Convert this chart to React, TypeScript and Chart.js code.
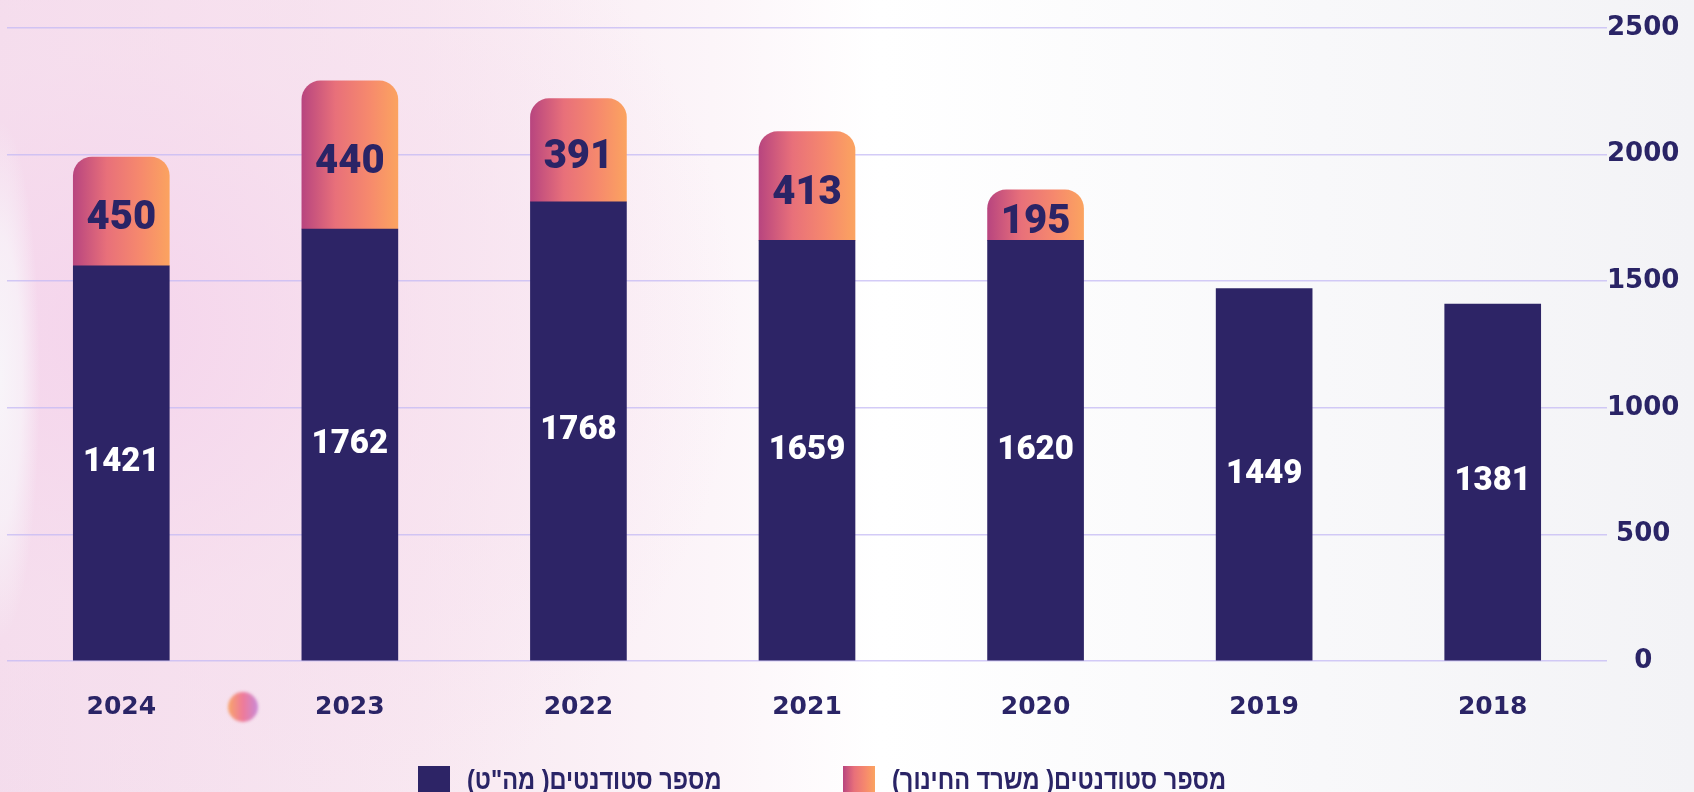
import React, { useEffect, useRef } from "react";
import { Chart, registerables } from "chart.js";

Chart.register(...registerables);

// ---- data ----
const years = ["2024", "2023", "2022", "2021", "2020", "2019", "2018"];
// bar heights as drawn against the value axis
const mahatHeights = [1561, 1706, 1813, 1661, 1661, 1471, 1410];
const eduHeights: (number | null)[] = [429, 585, 408, 430, 200, null, null];
// numbers printed on the bars
const mahatLabels = [1421, 1762, 1768, 1659, 1620, 1449, 1381];
const eduLabels: (number | null)[] = [450, 440, 391, 413, 195, null, null];
const yTickValues = [0, 500, 1000, 1500, 2000, 2500];
const seriesNames = ['מספר סטודנטים( מה"ט)', 'מספר סטודנטים( משרד החינוך)'];

// ---- style ----
const NAVY = "#2d2466";
const TEXT_NAVY = "#2a2466";
const BAR_W = 96;
const GRAD_STOPS: [number, string][] = [
  [0, "#b8457f"],
  [0.35, "#e8707a"],
  [0.7, "#f6896d"],
  [1, "#fba360"],
];

function makeGrad(ctx: CanvasRenderingContext2D, x0: number, x1: number) {
  if (!Number.isFinite(x0) || !Number.isFinite(x1)) return "#f0806f" as any;
  const g = ctx.createLinearGradient(x0, 0, x1, 0);
  GRAD_STOPS.forEach(([o, c]) => g.addColorStop(o, c));
  return g;
}

const barLabelPlugin = {
  id: "barLabels",
  afterDatasetsDraw(chart: any) {
    const ctx = chart.ctx as CanvasRenderingContext2D;
    const sets = [
      { idx: 0, labels: mahatLabels, color: "#ffffff", size: 33, dy: 0 },
      { idx: 1, labels: eduLabels, color: TEXT_NAVY, size: 40, dy: 8 },
    ];
    ctx.save();
    ctx.textAlign = "center";
    ctx.textBaseline = "middle";
    sets.forEach((s) => {
      const meta = chart.getDatasetMeta(s.idx);
      ctx.font = `900 ${s.size}px Roboto, "Liberation Sans", sans-serif`;
      ctx.fillStyle = s.color;
      meta.data.forEach((el: any, i: number) => {
        const v = s.labels[i];
        if (v == null) return;
        const y = (el.y + el.base) / 2 + s.dy;
        ctx.fillText(String(v), el.x, y);
      });
    });
    ctx.restore();
  },
};

const legendPlugin = {
  id: "customLegend",
  afterDraw(chart: any) {
    const ctx = chart.ctx as CanvasRenderingContext2D;
    const area = chart.chartArea;
    const boxW = 32;
    const boxH = 30;
    const gapText = 17;
    const slot = 425;
    const top = 766;
    const cy = 781;
    const sx = 0.84;
    ctx.save();
    ctx.font = `bold 28px "Liberation Sans", "DejaVu Sans", sans-serif`;
    (ctx as any).direction = "rtl";
    ctx.textAlign = "left";
    ctx.textBaseline = "middle";
    const start = area.left + 411;
    seriesNames.forEach((name, i) => {
      const x = start + i * slot;
      ctx.fillStyle = i === 0 ? NAVY : makeGrad(ctx, x, x + boxW);
      ctx.fillRect(x, top, boxW, boxH);
      ctx.save();
      ctx.translate(x + boxW + gapText, cy);
      ctx.scale(sx, 1);
      ctx.fillStyle = TEXT_NAVY;
      ctx.fillText(name, 0, 0);
      ctx.restore();
    });
    ctx.restore();
  },
};

export default function App() {
  const ref = useRef<HTMLCanvasElement | null>(null);

  useEffect(() => {
    if (!ref.current) return;
    const chart = new Chart(ref.current, {
      type: "bar",
      data: {
        labels: years,
        datasets: [
          {
            label: seriesNames[0],
            data: mahatHeights,
            backgroundColor: NAVY,
            barThickness: BAR_W,
            borderWidth: 0,
          },
          {
            label: seriesNames[1],
            data: eduHeights as any,
            backgroundColor: (c: any) => {
              const xs = c.chart.scales?.x;
              if (!xs || c.dataIndex == null) return "#f0806f";
              const cx = xs.getPixelForValue(c.dataIndex);
              return makeGrad(c.chart.ctx, cx - BAR_W / 2, cx + BAR_W / 2);
            },
            barThickness: BAR_W,
            borderWidth: 0,
            borderRadius: { topLeft: 19, topRight: 19, bottomLeft: 0, bottomRight: 0 },
            borderSkipped: false,
          },
        ],
      },
      options: {
        animation: false,
        responsive: false,
        layout: { padding: { left: 7, top: 28, right: 0, bottom: 0 } },
        plugins: {
          legend: { display: false },
          tooltip: { enabled: false },
        },
        scales: {
          x: {
            stacked: true,
            grid: { display: false, drawTicks: false },
            border: { display: false },
            afterFit: (s: any) => {
              s.height = 131;
            },
            ticks: {
              color: TEXT_NAVY,
              padding: 31,
              font: { family: '"DejaVu Sans", sans-serif', weight: "bold", size: 25 },
            },
          },
          y: {
            stacked: true,
            position: "right",
            min: 0,
            max: 2500,
            afterFit: (s: any) => {
              s.width = 87;
            },
            afterBuildTicks: (s: any) => {
              s.ticks = yTickValues.map((v) => ({ value: v }));
            },
            grid: {
              color: "rgba(196,186,244,0.75)",
              lineWidth: 1.5,
              drawTicks: false,
            },
            border: { display: false },
            ticks: {
              color: TEXT_NAVY,
              crossAlign: "center",
              padding: 0,
              callback: (v: any) => String(v),
              font: { family: '"DejaVu Sans", sans-serif', weight: "bold", size: 26 },
            },
          },
        },
      },
      plugins: [barLabelPlugin, legendPlugin],
    });
    return () => chart.destroy();
  }, []);

  const bg = [
    "radial-gradient(ellipse 40px 260px at 0px 380px, rgba(248,246,250,0.95) 0%, rgba(248,246,250,0.7) 55%, rgba(248,246,250,0) 100%)",
    "radial-gradient(ellipse 620px 560px at 120px 330px, rgba(245,212,236,0.9) 0%, rgba(247,222,238,0.6) 50%, rgba(250,238,245,0) 100%)",
    "linear-gradient(90deg, #f3dcec 0%, #f8e8f1 25%, #fcf5f9 42%, #ffffff 52%, #f8f8fa 78%, #f3f3f6 100%)",
  ].join(",");

  return (
    <div
      style={{
        position: "fixed",
        left: 0,
        top: 0,
        width: 1694,
        height: 792,
        overflow: "hidden",
        background: bg,
      }}
    >
      <div
        style={{
          position: "absolute",
          left: 228,
          top: 692,
          width: 30,
          height: 30,
          borderRadius: "50%",
          background: "linear-gradient(90deg, #f8a56a 0%, #ee7a9a 50%, #c98ad6 100%)",
          filter: "blur(1.5px)",
        }}
      />
      <canvas
        ref={ref}
        width={1694}
        height={792}
        style={{ position: "absolute", left: 0, top: 0, width: 1694, height: 792 }}
      />
    </div>
  );
}
